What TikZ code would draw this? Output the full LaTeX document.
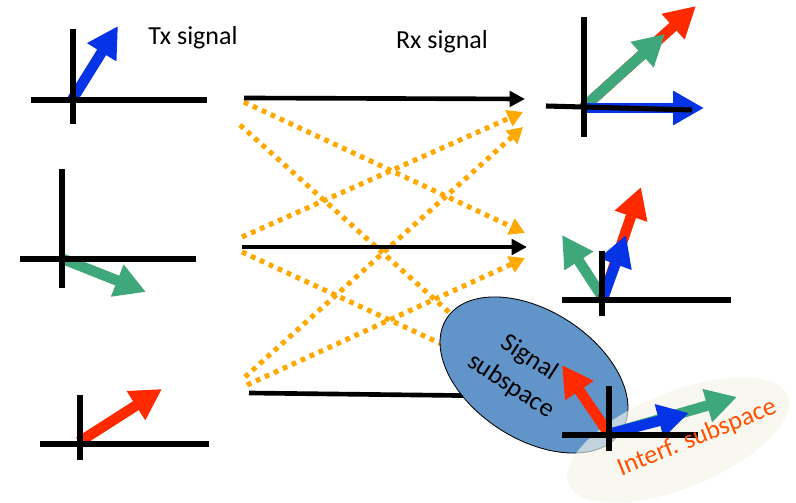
\documentclass[tikz,border=0pt]{standalone}
\usepackage{fontspec}
\setmainfont{Carlito}
\usetikzlibrary{positioning,arrows.meta,shapes.geometric}
\definecolor{vecblue}{HTML}{0533E6}
\definecolor{vecgreen}{HTML}{3FA87A}
\definecolor{vecred}{HTML}{FF2A00}
\definecolor{leakorange}{HTML}{FFA800}
\definecolor{sigfill}{HTML}{6195C9}
\definecolor{intfill}{HTML}{F4F5EA}
\definecolor{inttext}{HTML}{FF5000}

\begin{document}
\begin{tikzpicture}[x=0.025cm, y=-0.025cm,
    axisline/.style={line width=3.6pt},
    sigvec/.style={line width=7.5pt, -{Triangle[length=22pt,width=23pt]}},
    link/.style={line width=3.3pt, -{Triangle[length=11pt,width=11pt]}},
    leak/.style={leakorange, line width=3.6pt, dash pattern=on 3.4pt off 3.6pt},
    leaktip/.style={leak, -{Triangle[length=11pt,width=12pt]}},
    txt/.style={font=\fontsize{18.5}{24}\selectfont, align=center}]
  \useasboundingbox (0,0) rectangle (796,503);

  % link end points
  \coordinate (s1) at (244,98);   \coordinate (e1) at (525,99);
  \coordinate (s2) at (242,247);  \coordinate (e2) at (527,247);
  \coordinate (s3) at (249,393);  \coordinate (e3) at (500,396);
  \coordinate (l1a) at (244,102); \coordinate (r2a) at (525,233);
  \coordinate (l1b) at (240,125); \coordinate (m1) at (480,340);
  \coordinate (l2a) at (242,237); \coordinate (r1a) at (523,112);
  \coordinate (l2b) at (242,252); \coordinate (m2) at (470,357);
  \coordinate (l3a) at (245,377); \coordinate (r1b) at (523,127);
  \coordinate (l3b) at (247,385); \coordinate (r2b) at (525,258);

  % cross links
  \draw[leaktip] (l1a) -- (r2a);
  \draw[leak] (l1b) -- (m1);
  \draw[leaktip] (l2a) -- (r1a);
  \draw[leak] (l2b) -- (m2);
  \draw[leaktip] (l3a) -- (r1b);
  \draw[leaktip] (l3b) -- (r2b);

  % direct links
  \draw[link] (s1) -- (e1);
  \draw[link] (s2) -- (e2);
  \draw[line width=3.3pt] (s3) -- (e3);

  % subspaces
  \node[ellipse, draw=black, line width=0.6pt, fill=sigfill, inner sep=0pt,
        minimum width=5.2cm, minimum height=3.2cm, rotate=-33] (sigsp) at (534,375) {};
  \node[ellipse, fill=intfill, fill opacity=0.65, inner sep=0pt,
        minimum width=5.9cm, minimum height=2.4cm, rotate=22] (intsp) at (678,440) {};

  % transmit side
  \coordinate (txo1) at (72,100);  \coordinate (tx1b) at (118,26);
  \coordinate (txo2) at (63,259);  \coordinate (tx2g) at (146,292);
  \coordinate (txo3) at (79,442);  \coordinate (tx3r) at (162,389);
  \draw[sigvec, vecblue] (txo1) -- (tx1b);
  \draw[sigvec, vecgreen] (txo2) -- (tx2g);
  \draw[sigvec, vecred] (txo3) -- (tx3r);

  \coordinate (tx1t) at (73,29);  \coordinate (tx1d) at (73,124);
  \coordinate (tx1l) at (31,100); \coordinate (tx1r) at (207,100);
  \coordinate (tx2t) at (62,169); \coordinate (tx2d) at (62,288);
  \coordinate (tx2l) at (20,259); \coordinate (tx2r) at (196,259);
  \coordinate (tx3t) at (80,395); \coordinate (tx3d) at (80,460);
  \coordinate (tx3l) at (40,444); \coordinate (tx3r2) at (209,444);
  \draw[axisline] (tx1t) -- (tx1d);  \draw[axisline] (tx1l) -- (tx1r);
  \draw[axisline] (tx2t) -- (tx2d);  \draw[axisline] (tx2l) -- (tx2r);
  \draw[axisline] (tx3t) -- (tx3d);  \draw[axisline] (tx3l) -- (tx3r2);

  % receive side
  \coordinate (rxo1) at (583,108);
  \coordinate (rx1r) at (696,6);  \coordinate (rx1g) at (665,34);  \coordinate (rx1b) at (704,108);
  \draw[sigvec, vecred] (rxo1) -- (rx1r);
  \draw[sigvec, vecgreen] (rxo1) -- (rx1g);
  \draw[sigvec, vecblue] (rxo1) -- (rx1b);

  \coordinate (rxo2) at (603,298);
  \coordinate (rx2g) at (562,235); \coordinate (rx2r) at (641,187); \coordinate (rx2b) at (626,235);
  \draw[sigvec, vecgreen] (rxo2) -- (rx2g);
  \draw[sigvec, vecred] (rxo2) -- (rx2r);
  \draw[sigvec, vecblue] (rxo2) -- (rx2b);

  \coordinate (rxo3) at (609,434);
  \coordinate (rx3r) at (562,365); \coordinate (rx3g) at (737,397); \coordinate (rx3b) at (689,413);
  \draw[sigvec, vecred] (rxo3) -- (rx3r);
  \draw[sigvec, vecgreen] (rxo3) -- (rx3g);
  \draw[sigvec, vecblue] (rxo3) -- (rx3b);

  \coordinate (rx1t) at (584,17);  \coordinate (rx1d) at (584,137);
  \coordinate (rx1l) at (546,106); \coordinate (rx1e) at (692,110);
  \coordinate (rx2t) at (602,251); \coordinate (rx2d) at (602,316);
  \coordinate (rx2l) at (562,300); \coordinate (rx2e) at (731,300);
  \coordinate (rx3t) at (609,386); \coordinate (rx3d) at (609,451);
  \coordinate (rx3l) at (562,435); \coordinate (rx3e) at (698,435);
  \draw[axisline] (rx1t) -- (rx1d);  \draw[axisline] (rx1l) -- (rx1e);
  \draw[axisline] (rx2t) -- (rx2d);  \draw[axisline] (rx2l) -- (rx2e);
  \draw[axisline] (rx3t) -- (rx3d);  \draw[axisline] (rx3l) -- (rx3e);

  % labels
  \node[txt] (txlab) at (193,38) {Tx signal};
  \node[txt] (rxlab) at (442,42) {Rx signal};
  \node[txt, rotate=-33] (siglab) at (520,372) {Signal\\subspace};
  \node[txt, rotate=22, text=inttext] (intlab) at (697,438) {Interf. subspace};
\end{tikzpicture}
\end{document}
